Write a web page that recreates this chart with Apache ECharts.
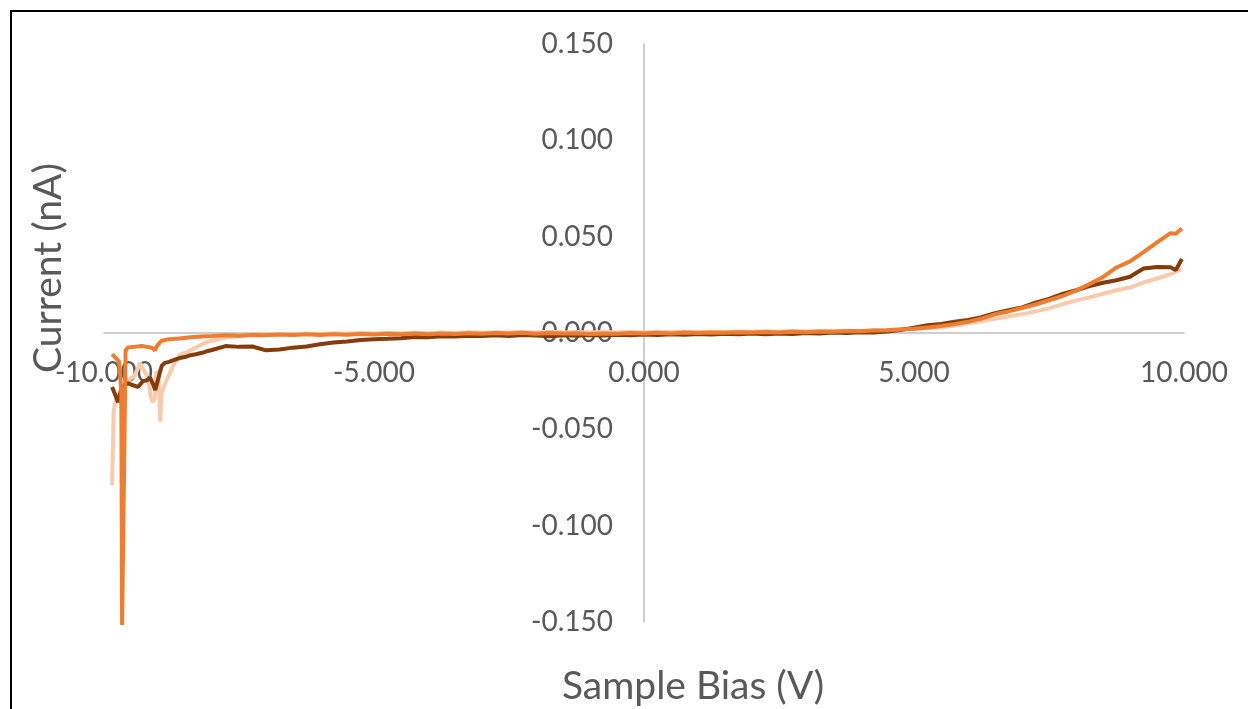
<!DOCTYPE html>
<html>
<head>
<meta charset="utf-8">
<script src="https://cdn.jsdelivr.net/npm/echarts@6/dist/echarts.min.js"></script>
<style>
	body {
		margin: 0;
		background: #fff;
	}

	#chart {
		width: 1248px;
		height: 709px;
	}
</style>
</head>
<body>
<div id="chart"></div>
<script>
	// x axis ticks / y axis ticks
	var xTicks = [-10, -5, 0, 5, 10];
	var yTicks = [-0.15, -0.1, -0.05, 0, 0.05, 0.1, 0.15];

	// shared bias grid for the middle part of every sweep (V)
	var midBias = [-8.0, -7.75, -7.5, -7.25, -7.0, -6.75, -6.5, -6.25, -6.0, -5.75, -5.5, -5.25, -5.0, -4.75, -4.5, -4.25,
		-4.0, -3.75, -3.5, -3.25, -3.0, -2.75, -2.5, -2.25, -2.0, -1.75, -1.5, -1.25, -1.0, -0.75, -0.5, -0.25,
		0, 0.25, 0.5, 0.75, 1.0, 1.25, 1.5, 1.75, 2.0, 2.25, 2.5, 2.75, 3.0, 3.25, 3.5, 3.75,
		4.0, 4.25, 4.5, 4.75, 5.0, 5.25, 5.5, 5.75, 6.0, 6.25, 6.5, 6.75, 7.0, 7.25, 7.5, 7.75,
		8.0, 8.25, 8.5, 8.75, 9.0, 9.25, 9.5, 9.75];

	// light peach sweep
	var peachLeftX = [-9.85, -9.82, -9.78, -9.74, -9.68, -9.6, -9.52, -9.43, -9.33, -9.25, -9.18, -9.14, -9.1, -9.06,
		-9.03, -8.99, -8.96, -8.93, -8.88, -8.8, -8.7, -8.6, -8.46, -8.28, -8.1];
	var peachLeftY = [-0.079, -0.040, -0.035, -0.032, -0.030, -0.027, -0.024, -0.022, -0.0156, -0.020, -0.023, -0.032, -0.036, -0.034,
		-0.020, -0.021, -0.046, -0.031, -0.027, -0.022, -0.016, -0.0114, -0.0099, -0.0073, -0.0047];
	var peachMidY = [-0.0040, -0.0024, -0.0016, -0.0009, -0.0011, -0.0005, -0.0008, -0.0003, -0.0006, -0.0001, -0.0004, 0.0000, -0.0003, 0.0001, -0.0002, 0.0002,
		-0.0001, 0.0003, 0.0000, 0.0004, 0.0001, 0.0004, 0.0002, 0.0005, 0.0002, 0.0006, 0.0003, 0.0005, 0.0002, 0.0005, 0.0003, 0.0006,
		0.0003, 0.0006, 0.0004, 0.0007, 0.0004, 0.0007, 0.0005, 0.0008, 0.0006, 0.0009, 0.0007, 0.0010, 0.0008, 0.0011, 0.0009, 0.0012,
		0.0011, 0.0014, 0.0015, 0.0019, 0.0022, 0.0026, 0.0030, 0.0038, 0.0050, 0.0062, 0.0074, 0.0086, 0.0098, 0.0112, 0.0128, 0.0150,
		0.0168, 0.0185, 0.0204, 0.0222, 0.0236, 0.0262, 0.0283, 0.0305];
	var peachRightX = [9.96];
	var peachRightY = [0.0332];

	// dark brown sweep
	var brownLeftX = [-9.85, -9.78, -9.74, -9.67, -9.56, -9.48, -9.37, -9.28, -9.2, -9.15, -9.1, -9.05, -8.98, -8.93,
		-8.87, -8.8, -8.7, -8.6, -8.5, -8.4, -8.3, -8.2, -8.1];
	var brownLeftY = [-0.028, -0.033, -0.036, -0.028, -0.026, -0.027, -0.028, -0.025, -0.0245, -0.023, -0.026, -0.0296, -0.022, -0.017,
		-0.0155, -0.015, -0.014, -0.013, -0.0125, -0.0115, -0.011, -0.0104, -0.0095];
	var brownMidY = [-0.0088, -0.0068, -0.0072, -0.0070, -0.0090, -0.0086, -0.0076, -0.0070, -0.0058, -0.0049, -0.0044, -0.0036, -0.0032, -0.0030, -0.0027, -0.0021,
		-0.0022, -0.0017, -0.0018, -0.0014, -0.0016, -0.0012, -0.0015, -0.0011, -0.0013, -0.0017, -0.0012, -0.0014, -0.0010, -0.0013, -0.0009, -0.0012,
		-0.0008, -0.0011, -0.0006, -0.0009, -0.0005, -0.0008, -0.0004, -0.0007, -0.0003, -0.0006, -0.0002, -0.0005, 0.0000, -0.0003, 0.0002, 0.0000,
		0.0004, 0.0003, 0.0008, 0.0016, 0.0028, 0.0040, 0.0047, 0.0058, 0.0068, 0.0082, 0.0103, 0.0118, 0.0133, 0.0157, 0.0177, 0.0203,
		0.0222, 0.0243, 0.0261, 0.0274, 0.0292, 0.0335, 0.0342, 0.0341];
	var brownRightX = [9.85, 9.96];
	var brownRightY = [0.0327, 0.0384];

	// orange sweep
	var orangeLeftX = [-9.85, -9.78, -9.72, -9.68, -9.665, -9.645, -9.6, -9.56, -9.45, -9.3, -9.2, -9.1, -9.06, -9.0,
		-8.93, -8.8, -8.6, -8.4, -8.2];
	var orangeLeftY = [-0.011, -0.013, -0.015, -0.030, -0.1515, -0.1515, -0.009, -0.0075, -0.0072, -0.0068, -0.0072, -0.0078, -0.0090, -0.0060,
		-0.0040, -0.0032, -0.0028, -0.0022, -0.0018];
	var orangeMidY = [-0.0016, -0.0012, -0.0014, -0.0010, -0.0012, -0.0008, -0.0011, -0.0007, -0.0010, -0.0006, -0.0009, -0.0005, -0.0008, -0.0004, -0.0007, -0.0003,
		-0.0006, -0.0002, -0.0005, -0.0001, -0.0004, 0.0000, -0.0003, 0.0001, -0.0004, 0.0000, -0.0003, -0.0001, -0.0005, -0.0002, -0.0004, 0.0000,
		-0.0003, 0.0001, -0.0002, 0.0002, 0.0000, 0.0003, 0.0001, 0.0004, 0.0002, 0.0005, 0.0003, 0.0006, 0.0004, 0.0008, 0.0006, 0.0010,
		0.0009, 0.0013, 0.0014, 0.0018, 0.0022, 0.0028, 0.0036, 0.0046, 0.0058, 0.0075, 0.0097, 0.0112, 0.0130, 0.0148, 0.0170, 0.0192,
		0.0220, 0.0254, 0.0290, 0.0340, 0.0372, 0.0420, 0.0470, 0.0518];
	var orangeRightX = [9.85, 9.96];
	var orangeRightY = [0.0515, 0.0542];

	function pairs(lx, ly, my, rx, ry) {
		var out = [];
		for (var i = 0; i < lx.length; i++) out.push([lx[i], ly[i]]);
		for (var j = 0; j < midBias.length; j++) out.push([midBias[j], my[j]]);
		for (var k = 0; k < rx.length; k++) out.push([rx[k], ry[k]]);
		return out;
	}

	function sweep(data, color) {
		return {
			type: 'line',
			data: data,
			showSymbol: false,
			clip: false,
			lineStyle: { color: color, width: 4 },
			itemStyle: { color: color }
		};
	}

	var labelFont = 'Lato, "Open Sans", sans-serif';
	var grey = '#595959';

	// grid: 104..1184 wide, 44..622 high -> zero lines at x=644, y=333
	var chart = echarts.init(document.getElementById('chart'));
	var option = {
		animation: false,
		backgroundColor: '#fff',
		grid: { left: 104, right: 64, top: 44, bottom: 87 },
		xAxis: {
			type: 'value',
			position: 'bottom',
			offset: -289,
			min: xTicks[0],
			max: xTicks[xTicks.length - 1],
			interval: 5,
			axisLine: { onZero: false, lineStyle: { color: '#BFBFBF', width: 1.5 } },
			axisTick: { show: false },
			splitLine: { show: false },
			axisLabel: {
				color: grey, fontSize: 28, fontFamily: labelFont, margin: 26,
				showMinLabel: true, showMaxLabel: true,
				formatter: function (v) { return v.toFixed(3); }
			}
		},
		yAxis: {
			type: 'value',
			position: 'left',
			offset: -540,
			min: yTicks[0],
			max: yTicks[yTicks.length - 1],
			interval: 0.05,
			axisLine: { onZero: false, lineStyle: { color: '#BFBFBF', width: 1.5 } },
			axisTick: { show: false },
			splitLine: { show: false },
			axisLabel: {
				color: grey, fontSize: 28, fontFamily: labelFont, margin: 31,
				showMinLabel: true, showMaxLabel: true,
				formatter: function (v) { return v.toFixed(3); }
			}
		},
		graphic: [
			{
				type: 'rect', silent: true,
				shape: { x: 11, y: 11, width: 2000, height: 2000 },
				style: { fill: 'none', stroke: '#000', lineWidth: 2 }
			},
			{
				type: 'text', x: 48, y: 268, rotation: Math.PI / 2,
				style: { text: 'Current (nA)', fill: grey, font: '39px ' + labelFont, textAlign: 'center', textVerticalAlign: 'middle' }
			},
			{
				type: 'text', x: 693, y: 686,
				style: { text: 'Sample Bias (V)', fill: grey, font: '39px ' + labelFont, textAlign: 'center', textVerticalAlign: 'middle' }
			}
		],
		series: [
			sweep(pairs(peachLeftX, peachLeftY, peachMidY, peachRightX, peachRightY), '#F8CBAD'),
			sweep(pairs(brownLeftX, brownLeftY, brownMidY, brownRightX, brownRightY), '#843C0C'),
			sweep(pairs(orangeLeftX, orangeLeftY, orangeMidY, orangeRightX, orangeRightY), '#ED7D31')
		]
	};
	chart.setOption(option);
</script>
</body>
</html>
